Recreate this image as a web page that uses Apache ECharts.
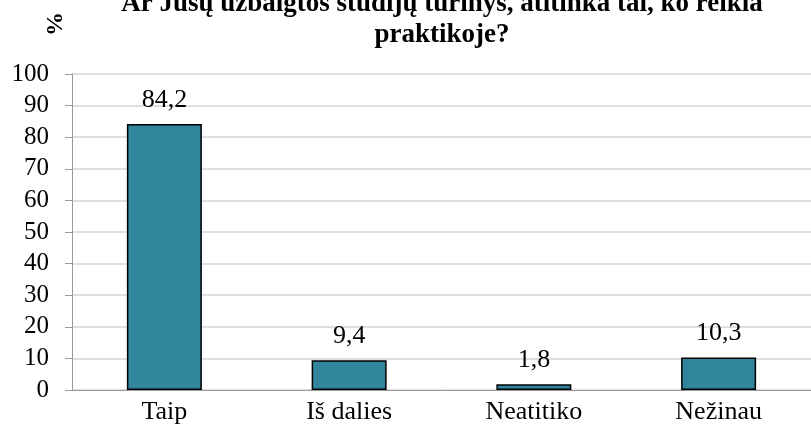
<!DOCTYPE html>
<html>
<head>
<meta charset="utf-8">
<title>Studijų turinys</title>
<script src="https://cdn.jsdelivr.net/npm/echarts@6/dist/echarts.min.js"></script>
<style>
  html, body { margin: 0; padding: 0; background: #fff; }
  #main { width: 811px; height: 435px; }
</style>
</head>
<body>
<div id="main"></div>
<script type="text/javascript">
// duomenys
var categories = ['Taip', 'Iš dalies', 'Neatitiko', 'Nežinau'];
var values = [84.2, 9.4, 1.8, 10.3];
var yTicks = [0, 10, 20, 30, 40, 50, 60, 70, 80, 90, 100];

var serif = '"Liberation Serif", "DejaVu Serif", serif';

var myChart = echarts.init(document.getElementById('main'));

var option = {
    animation: false,
    backgroundColor: '#fff',
    title: {
        text: 'Ar Jūsų užbaigtos studijų turinys, atitinka tai, ko reikia\npraktikoje?',
        left: 437,
        textAlign: 'center',
        top: -16,
        textStyle: {
            fontFamily: serif,
            fontSize: 27,
            fontWeight: 'bold',
            color: '#000',
            lineHeight: 31
        }
    },
    graphic: [{
        type: 'text',
        x: 44,
        y: 36,
        rotation: Math.PI / 2,
        style: {
            text: '%',
            font: 'bold 24px ' + serif,
            fill: '#000'
        }
    }],
    grid: {
        left: 72,
        top: 74,
        width: 748,
        height: 316
    },
    xAxis: {
        type: 'category',
        data: categories,
        axisLine: { lineStyle: { color: '#999', width: 1 } },
        axisTick: { show: false },
        axisLabel: {
            fontFamily: serif,
            fontSize: 26,
            color: '#000',
            margin: 9
        }
    },
    yAxis: {
        type: 'value',
        min: yTicks[0],
        max: yTicks[yTicks.length - 1],
        interval: 10,
        axisLine: { show: true, lineStyle: { color: '#999', width: 1 } },
        axisTick: { show: true, length: 7, lineStyle: { color: '#999' } },
        splitLine: { lineStyle: { color: '#d4d4d4', width: 1.5 } },
        axisLabel: {
            fontFamily: serif,
            fontSize: 25,
            color: '#000',
            margin: 23
        }
    },
    series: [{
        type: 'bar',
        data: values,
        barWidth: 75,
        itemStyle: {
            color: '#31859c',
            borderColor: '#000',
            borderWidth: 1.5
        },
        label: {
            show: true,
            position: 'top',
            distance: 11,
            fontFamily: serif,
            fontSize: 26,
            color: '#000',
            formatter: function (p) {
                return String(p.value).replace('.', ',');
            }
        }
    }]
};

myChart.setOption(option);
</script>
</body>
</html>
